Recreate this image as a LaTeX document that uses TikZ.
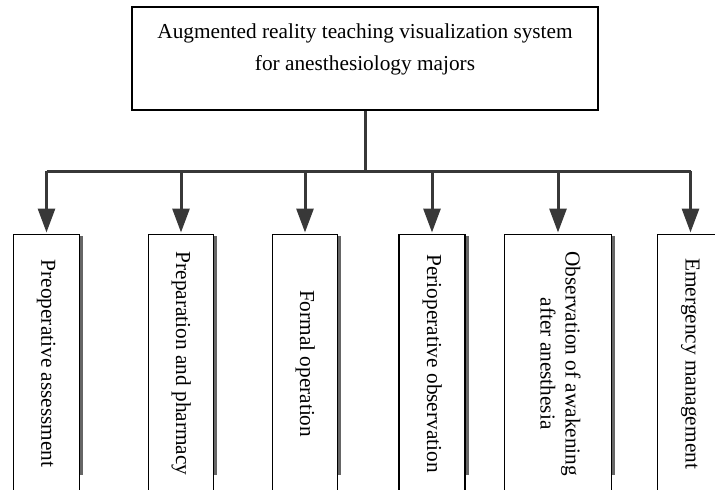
\documentclass[tikz,border=0pt]{standalone}
\usepackage{fontspec}
\setmainfont{Liberation Serif}
\usetikzlibrary{arrows.meta,positioning}

\begin{document}
\begin{tikzpicture}[x=1pt,y=1pt,
	box/.style={draw=black, line width=1.3pt, fill=white, inner sep=0pt},
	stage/.style={box, minimum height=258pt, font=\fontsize{21.3}{25}\selectfont},
	link/.style={draw=black!78, line width=3pt},
	arr/.style={link, -{Triangle[length=24pt,width=17pt]}, shorten >=1.5pt},
	shade/.style={draw=black!60, line width=3pt}]
		\useasboundingbox (0,0) rectangle (715,-490);
		\clip (0,0) rectangle (715,-490);

		\node[box, minimum width=466pt, minimum height=103pt] (sys) at (365,-58.5) {};
		\node[inner sep=0pt, align=center, font=\fontsize{21.3}{32}\selectfont, below=17.3pt of sys.north] (systxt) {Augmented reality teaching visualization system\\for anesthesiology majors};

		\coordinate (bus) at (365,-171);
		\draw[link] (sys.south) -- (bus);

		\foreach \n/\x/\w/\t in {1/46.5/66/{Preoperative assessment},
				2/181/65/{Preparation and pharmacy},
				3/305/65/{Formal operation},
				4/432/66/{Perioperative observation},
				5/558/107/{Observation of awakening\\after anesthesia},
				6/690.5/66/{Emergency management}}
		{
			\draw[shade] (\x+\w/2+2.2,-236) -- (\x+\w/2+2.2,-475);
			\node[stage, minimum width=\w pt, anchor=north] (s\n) at (\x,-234)
				{\rotatebox{-90}{\begin{tabular}{@{}c@{}}\t\end{tabular}}};
		}

		\draw[link] (s1.north |- bus) -- (s6.north |- bus);
		\foreach \n in {1,...,6}
			\draw[arr] (s\n.north |- bus) -- (s\n.north);
	\end{tikzpicture}
\end{document}
